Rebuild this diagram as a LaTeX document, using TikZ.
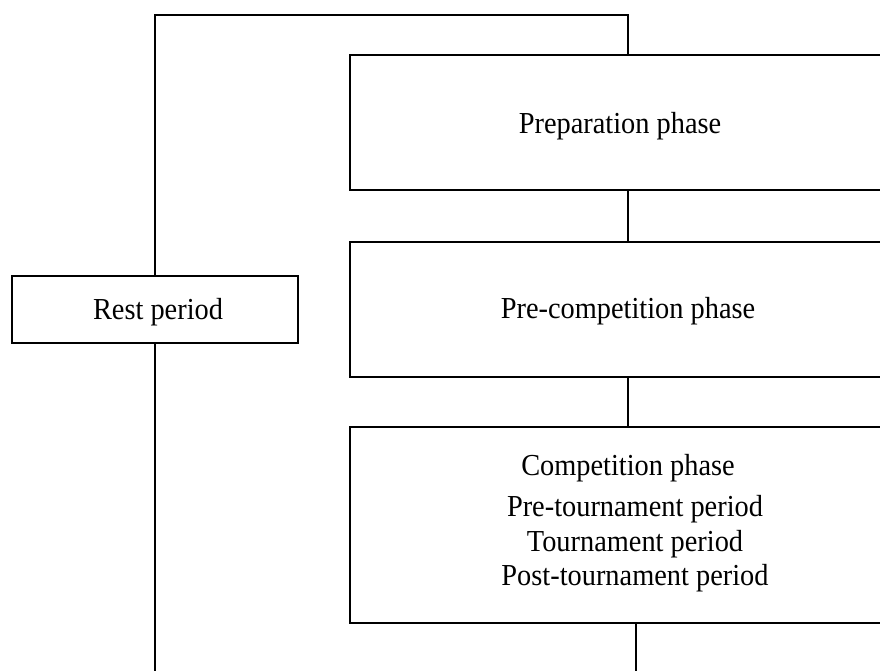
\documentclass[tikz,border=0pt]{standalone}
\usepackage{fontspec}
\setmainfont[FakeStretch=0.93]{Liberation Serif}
\begin{document}
\begin{tikzpicture}[x=1pt,y=-1pt,
  phasebox/.style={draw=black,line width=2.2pt,rectangle,inner sep=0pt,minimum width=556pt},
  restbox/.style={draw=black,line width=2.2pt,rectangle,inner sep=0pt,minimum width=286pt,minimum height=67pt},
  lbl/.style={inner sep=0pt,font=\fontsize{30.5}{34}\selectfont},
  link/.style={draw=black,line width=2.2pt}]
\useasboundingbox (0,0) rectangle (880,671);
\clip (0,0) rectangle (880,671);
\node[phasebox,minimum height=135pt] (prep) at (628,122.5) {};
\node[lbl] (preptxt) at (620,126) {Preparation phase};
\node[phasebox,minimum height=135pt] (precomp) at (628,309.5) {};
\node[lbl] (precomptxt) at (628,311) {Pre-competition phase};
\node[phasebox,minimum height=196pt] (comp) at (628,525) {};
\node[lbl] (comptxt) at (628,468) {Competition phase};
\node[lbl] (pretour) at (635,509) {Pre-tournament period};
\node[lbl] (tour) at (635,544) {Tournament period};
\node[lbl] (posttour) at (635,578) {Post-tournament period};
\node[restbox] (rest) at (155,309.5) {};
\node[lbl] (resttxt) at (158,312) {Rest period};
\coordinate (topL) at (155,15);
\coordinate (botL) at (155,675);
\coordinate (botR) at (636,675);
\draw[link,line width=2.8pt] (rest.north) -- (topL) -| (prep.north);
\draw[link] (prep.south) -- (precomp.north);
\draw[link] (precomp.south) -- (comp.north);
\draw[link] (rest.south) -- (botL);
\draw[link] (comp.south -| botR) -- (botR);
\end{tikzpicture}
\end{document}
